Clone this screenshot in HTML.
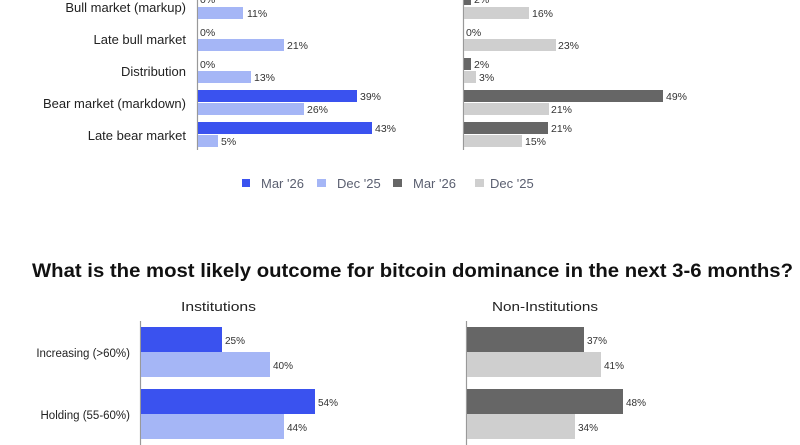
<!DOCTYPE html>
<html><head><meta charset="utf-8"><style>
html,body{margin:0;padding:0;background:#fff;width:800px;height:445px;overflow:hidden}
svg{display:block;font-family:"Liberation Sans",sans-serif}
.l{font-size:13px;fill:#222;text-anchor:end}
.v{font-size:10.5px;fill:#333}
.lg{font-size:13px;fill:#5a5f70}
</style></head><body>
<svg width="800" height="445" viewBox="0 0 800 445">
<!-- Top left -->
<line x1="197.5" y1="0" x2="197.5" y2="150" stroke="#999" stroke-width="1.2"/>
<text class="l" x="186" y="12">Bull market (markup)</text>
<text class="l" x="186" y="44">Late bull market</text>
<text class="l" x="186" y="76">Distribution</text>
<text class="l" x="186" y="108">Bear market (markdown)</text>
<text class="l" x="186" y="140">Late bear market</text>
<rect x="198" y="7" width="45" height="12" fill="#a5b6f6"/>
<rect x="198" y="39" width="86" height="12" fill="#a5b6f6"/>
<rect x="198" y="71" width="53" height="12" fill="#a5b6f6"/>
<rect x="198" y="90" width="159" height="12" fill="#3a52ef"/>
<rect x="198" y="103" width="106" height="12" fill="#a5b6f6"/>
<rect x="198" y="122" width="174" height="12" fill="#3a52ef"/>
<rect x="198" y="135" width="20" height="12" fill="#a5b6f6"/>
<g class="v">
<text x="200" y="3">0%</text><text x="247" y="17">11%</text>
<text x="200" y="36">0%</text><text x="287" y="49">21%</text>
<text x="200" y="68">0%</text><text x="254" y="81">13%</text>
<text x="360" y="100">39%</text><text x="307" y="113">26%</text>
<text x="375" y="132">43%</text><text x="221" y="145">5%</text>
</g>
<!-- Top right -->
<line x1="463.5" y1="0" x2="463.5" y2="150" stroke="#999" stroke-width="1.2"/>
<rect x="464" y="-6" width="7" height="11" fill="#666"/>
<rect x="464" y="7" width="65" height="12" fill="#cfcfcf"/>
<rect x="464" y="39" width="92" height="12" fill="#cfcfcf"/>
<rect x="464" y="58" width="7" height="12" fill="#666"/>
<rect x="464" y="71" width="12" height="12" fill="#cfcfcf"/>
<rect x="464" y="90" width="199" height="12" fill="#666"/>
<rect x="464" y="103" width="85" height="12" fill="#cfcfcf"/>
<rect x="464" y="122" width="84" height="12" fill="#666"/>
<rect x="464" y="135" width="58" height="12" fill="#cfcfcf"/>
<g class="v">
<text x="474" y="3">2%</text><text x="532" y="17">16%</text>
<text x="466" y="36">0%</text><text x="558" y="49">23%</text>
<text x="474" y="68">2%</text><text x="479" y="81">3%</text>
<text x="666" y="100">49%</text><text x="551" y="113">21%</text>
<text x="551" y="132">21%</text><text x="525" y="145">15%</text>
</g>
<!-- Legend -->
<rect x="242" y="179" width="8" height="8" fill="#3a52ef"/>
<text class="lg" x="261" y="188">Mar '26</text>
<rect x="317" y="179" width="9" height="8" fill="#a5b6f6"/>
<text class="lg" x="337" y="188">Dec '25</text>
<rect x="393" y="179" width="9" height="8" fill="#666"/>
<text class="lg" x="413" y="188">Mar '26</text>
<rect x="475" y="179" width="9" height="8" fill="#cfcfcf"/>
<text class="lg" x="490" y="188">Dec '25</text>
<!-- Title -->
<text x="32" y="277" font-size="19.5" font-weight="bold" fill="#111" textLength="761" lengthAdjust="spacingAndGlyphs">What is the most likely outcome for bitcoin dominance in the next 3-6 months?</text>
<text x="181" y="311" font-size="13" fill="#222" textLength="75" lengthAdjust="spacingAndGlyphs">Institutions</text>
<text x="492" y="311" font-size="13" fill="#222" textLength="106" lengthAdjust="spacingAndGlyphs">Non-Institutions</text>
<!-- Bottom left -->
<line x1="140.5" y1="321" x2="140.5" y2="445" stroke="#999" stroke-width="1.2"/>
<text class="l" x="130" y="357" style="font-size:11.5px">Increasing (&gt;60%)</text>
<text class="l" x="130" y="419" style="font-size:11.5px">Holding (55-60%)</text>
<rect x="141" y="327" width="81" height="25" fill="#3a52ef"/>
<rect x="141" y="352" width="129" height="25" fill="#a5b6f6"/>
<rect x="141" y="389" width="174" height="25" fill="#3a52ef"/>
<rect x="141" y="414" width="143" height="25" fill="#a5b6f6"/>
<g class="v" style="font-size:10px">
<text x="225" y="344">25%</text><text x="273" y="369">40%</text>
<text x="318" y="406">54%</text><text x="287" y="431">44%</text>
</g>
<!-- Bottom right -->
<line x1="466.5" y1="321" x2="466.5" y2="445" stroke="#999" stroke-width="1.2"/>
<rect x="467" y="327" width="117" height="25" fill="#666"/>
<rect x="467" y="352" width="134" height="25" fill="#cfcfcf"/>
<rect x="467" y="389" width="156" height="25" fill="#666"/>
<rect x="467" y="414" width="108" height="25" fill="#cfcfcf"/>
<g class="v" style="font-size:10px">
<text x="587" y="344">37%</text><text x="604" y="369">41%</text>
<text x="626" y="406">48%</text><text x="578" y="431">34%</text>
</g>
</svg>
</body></html>
